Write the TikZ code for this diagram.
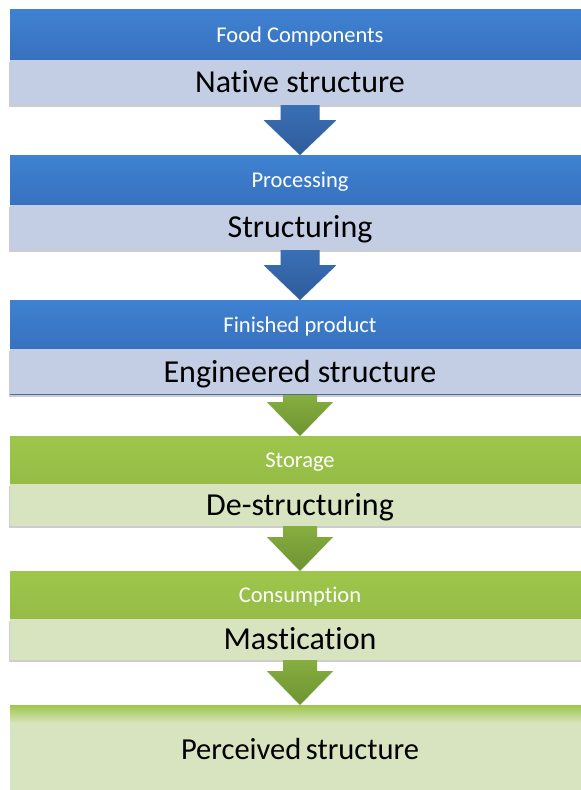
\documentclass[tikz,border=0pt]{standalone}
\usepackage{fontspec}
\setmainfont{Carlito}[Ligatures=NoCommon]
\usetikzlibrary{calc,shadows}

\definecolor{hdrBlueTop}{HTML}{3F82D2}
\definecolor{hdrBlueBot}{HTML}{3771BE}
\definecolor{bodyBlue}{HTML}{C3CEE5}
\definecolor{arrBlueTop}{HTML}{3A6FB5}
\definecolor{arrBlueBot}{HTML}{2E5C9C}
\definecolor{hdrGreenTop}{HTML}{9EC64C}
\definecolor{hdrGreenBot}{HTML}{95BC45}
\definecolor{bodyGreen}{HTML}{D8E4BF}
\definecolor{arrGreenTop}{HTML}{86AE40}
\definecolor{arrGreenBot}{HTML}{6E9331}
\definecolor{edgeBlue}{HTML}{4D6C97}

\tikzset{
  band/.style={rectangle, draw=none, inner sep=0pt, outer sep=0pt,
    minimum width=580pt, anchor=north west},
  hdrblue/.style={band, top color=hdrBlueTop, bottom color=hdrBlueBot},
  hdrgreen/.style={band, top color=hdrGreenTop, bottom color=hdrGreenBot},
  bodyshadow/.style={drop shadow={shadow xshift=-0.8pt, shadow yshift=-1.6pt,
    opacity=0.28, fill=black!70}},
  bodyblue/.style={band, fill=bodyBlue, bodyshadow},
  bodygreen/.style={band, fill=bodyGreen, bodyshadow},
  hdrtext/.style={anchor=base, inner sep=0pt, text=white, font=\fontsize{22.5}{26}\selectfont},
  bodytext/.style={anchor=base, inner sep=0pt, text=black, font=\fontsize{32}{38}\selectfont},
  % block arrow: shaft half width, head half width, head length
  blockarrow/.style n args={3}{to path={
    ($(\tikztostart)+(-#1,0)$) -- ($(\tikztostart)+(#1,0)$)
    -- ($(\tikztotarget)+(#1,#3)$) -- ($(\tikztotarget)+(#2,#3)$)
    -- (\tikztotarget) -- ($(\tikztotarget)+(-#2,#3)$)
    -- ($(\tikztotarget)+(-#1,#3)$) -- cycle}},
  bluearrow/.style={top color=arrBlueTop, bottom color=arrBlueBot,
    drop shadow={shadow xshift=0pt, shadow yshift=-1pt, opacity=0.15}},
  greenarrow/.style={top color=arrGreenTop, bottom color=arrGreenBot,
    drop shadow={shadow xshift=0pt, shadow yshift=-1pt, opacity=0.15}},
}

\begin{document}
\begin{tikzpicture}[x=1pt, y=-1pt]
  \useasboundingbox[fill=white] (0,0) rectangle (581,790);

  % stage 1
  \node[hdrblue, minimum height=51pt] (h1) at (10,9) {};
  \node[bodyblue, minimum height=45pt] (b1) at (h1.south west) {};
  % stage 2
  \node[hdrblue, minimum height=50pt] (h2) at (10,155) {};
  \node[bodyblue, minimum height=45pt] (b2) at (h2.south west) {};
  % stage 3
  \node[hdrblue, minimum height=49pt] (h3) at (10,300) {};
  \node[bodyblue, minimum height=46pt] (b3) at (h3.south west) {};
  \draw[edgeBlue, line width=1.2pt] ([yshift=0.6pt]b3.south west) -- ([yshift=0.6pt]b3.south east);
  % stage 4
  \node[hdrgreen, minimum height=48pt] (h4) at (10,436) {};
  \node[bodygreen, minimum height=42pt] (b4) at (h4.south west) {};
  % stage 5
  \node[hdrgreen, minimum height=48pt] (h5) at (10,571) {};
  \node[bodygreen, minimum height=41pt] (b5) at (h5.south west) {};
  % final stage
  \node[band, fill=bodyGreen, minimum height=90pt] (b6) at (10,705) {};
  \fill[top color=hdrGreenTop, bottom color=bodyGreen]
    (b6.north west) rectangle ([yshift=-18pt]b6.north east);

  % labels
  \node[hdrtext] (t1) at ([yshift=-7.5pt]h1.center) {Food Components};
  \node[bodytext] (s1) at ([yshift=-10pt]b1.center) {Native structure};
  \node[hdrtext] (t2) at ([yshift=-7.5pt]h2.center) {Processing};
  \node[bodytext] (s2) at ([yshift=-10pt]b2.center) {Structuring};
  \node[hdrtext] (t3) at ([yshift=-7.5pt]h3.center) {Finished product};
  \node[bodytext] (s3) at ([yshift=-10pt]b3.center) {Engineered structure};
  \node[hdrtext] (t4) at ([yshift=-7.5pt]h4.center) {Storage};
  \node[bodytext] (s4) at ([yshift=-10pt]b4.center) {De-structuring};
  \node[hdrtext] (t5) at ([yshift=-7.5pt]h5.center) {Consumption};
  \node[bodytext] (s5) at ([yshift=-10pt]b5.center) {Mastication};
  \node[bodytext, font=\fontsize{30.5}{36}\selectfont] (s6)
    at ([yshift=-12pt]b6.north |- 0,747.5) {Perceived\hspace{0.15em}structure};

  % connecting arrows
  \path[bluearrow] (b1.south) to[blockarrow={19.5pt}{36.5pt}{35pt}] (h2.north);
  \path[bluearrow] (b2.south) to[blockarrow={19.5pt}{36.5pt}{35pt}] (h3.north);
  \path[greenarrow] (b3.south) to[blockarrow={17pt}{33pt}{34pt}] (h4.north);
  \path[greenarrow] (b4.south) to[blockarrow={17pt}{33pt}{34pt}] (h5.north);
  \path[greenarrow] (b5.south) to[blockarrow={17pt}{33pt}{34pt}] (b6.north);
\end{tikzpicture}
\end{document}
